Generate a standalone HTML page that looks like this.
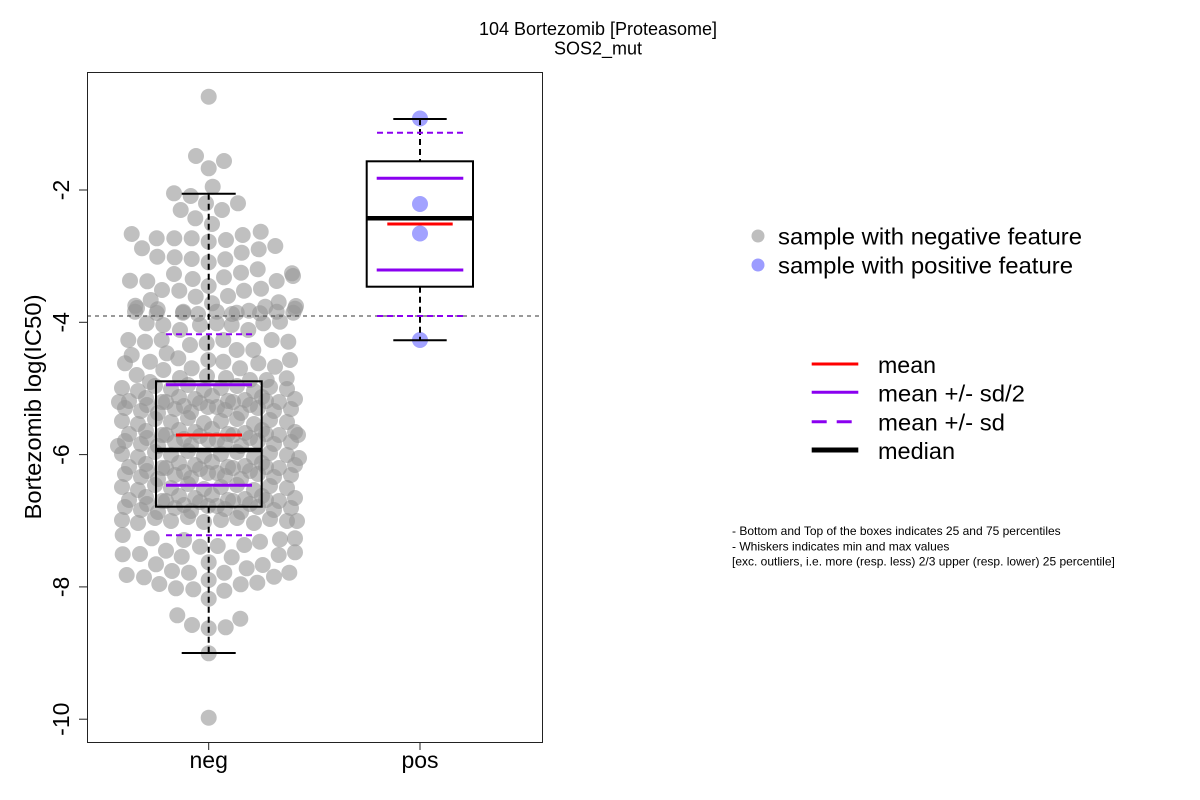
<!DOCTYPE html>
<html><head><meta charset="utf-8"><style>
html,body{margin:0;padding:0;background:#fff;}
svg{display:block;}
text{font-family:"Liberation Sans",Arial,sans-serif;fill:#000;}
.g{fill:rgb(150,150,150);fill-opacity:.6;}
.b{fill:rgb(100,100,255);fill-opacity:.6;}
</style></head><body>
<svg width="1200" height="800" viewBox="0 0 1200 800" xmlns="http://www.w3.org/2000/svg">
<rect x="0" y="0" width="1200" height="800" fill="#fff"/>
<defs>
<g id="rA">
<circle class="g" cx="122" cy="0" r="8"/><circle class="g" cx="138" cy="3" r="8"/><circle class="g" cx="155" cy="-2" r="8"/><circle class="g" cx="171" cy="1" r="8"/><circle class="g" cx="188" cy="-3" r="8"/><circle class="g" cx="204" cy="2" r="8"/><circle class="g" cx="221" cy="0" r="8"/><circle class="g" cx="237" cy="-2" r="8"/><circle class="g" cx="254" cy="3" r="8"/><circle class="g" cx="270" cy="-1" r="8"/><circle class="g" cx="287" cy="1" r="8"/>
</g>
<g id="rB">
<circle class="g" cx="129" cy="2" r="8"/><circle class="g" cx="146" cy="-1" r="8"/><circle class="g" cx="162" cy="3" r="8"/><circle class="g" cx="179" cy="-2" r="8"/><circle class="g" cx="195" cy="0" r="8"/><circle class="g" cx="212" cy="-3" r="8"/><circle class="g" cx="228" cy="2" r="8"/><circle class="g" cx="245" cy="1" r="8"/><circle class="g" cx="262" cy="-2" r="8"/><circle class="g" cx="279" cy="3" r="8"/><circle class="g" cx="295" cy="0" r="8"/>
</g>
<g id="rC">
<circle class="g" cx="125" cy="-2" r="8"/><circle class="g" cx="141" cy="1" r="8"/><circle class="g" cx="158" cy="3" r="8"/><circle class="g" cx="175" cy="-1" r="8"/><circle class="g" cx="191" cy="2" r="8"/><circle class="g" cx="208" cy="-3" r="8"/><circle class="g" cx="225" cy="0" r="8"/><circle class="g" cx="241" cy="3" r="8"/><circle class="g" cx="258" cy="-2" r="8"/><circle class="g" cx="274" cy="1" r="8"/><circle class="g" cx="291" cy="-1" r="8"/>
</g>
<g id="rD">
<circle class="g" cx="147" cy="1" r="8"/><circle class="g" cx="166" cy="-2" r="8"/><circle class="g" cx="184" cy="2" r="8"/><circle class="g" cx="200" cy="-1" r="8"/><circle class="g" cx="217" cy="3" r="8"/><circle class="g" cx="233" cy="-2" r="8"/><circle class="g" cx="250" cy="1" r="8"/><circle class="g" cx="266" cy="-3" r="8"/>
</g>
</defs>

<!-- title -->
<text x="598" y="35" font-size="18" text-anchor="middle">104 Bortezomib [Proteasome]</text>
<text x="598" y="54.5" font-size="18" text-anchor="middle">SOS2_mut</text>

<!-- neg points: top -->
<g>
<circle class="g" cx="208.7" cy="96.7" r="8"/>
<circle class="g" cx="196" cy="156" r="8"/><circle class="g" cx="224" cy="161" r="8"/><circle class="g" cx="208.7" cy="168.3" r="8"/>
<circle class="g" cx="212.7" cy="186.7" r="8"/><circle class="g" cx="174" cy="193.3" r="8"/><circle class="g" cx="190.7" cy="196" r="8"/><circle class="g" cx="206" cy="203.3" r="8"/><circle class="g" cx="238" cy="203.3" r="8"/><circle class="g" cx="180.7" cy="210" r="8"/><circle class="g" cx="222" cy="210" r="8"/><circle class="g" cx="195.3" cy="218.3" r="8"/><circle class="g" cx="212" cy="224" r="8"/>
<circle class="g" cx="131.7" cy="234" r="8"/><circle class="g" cx="156.7" cy="238.3" r="8"/><circle class="g" cx="174.3" cy="238.3" r="8"/><circle class="g" cx="191.7" cy="238.3" r="8"/><circle class="g" cx="208.7" cy="241.7" r="8"/><circle class="g" cx="226" cy="240" r="8"/><circle class="g" cx="242.7" cy="235" r="8"/><circle class="g" cx="260.7" cy="231.7" r="8"/><circle class="g" cx="142" cy="248.3" r="8"/><circle class="g" cx="275.3" cy="246" r="8"/>
<circle class="g" cx="157.3" cy="256.7" r="8"/><circle class="g" cx="174.7" cy="257.3" r="8"/><circle class="g" cx="191.7" cy="259" r="8"/><circle class="g" cx="208.7" cy="262.3" r="8"/><circle class="g" cx="225.3" cy="259.3" r="8"/><circle class="g" cx="241.7" cy="252.7" r="8"/><circle class="g" cx="258.7" cy="249.3" r="8"/>
<circle class="g" cx="130" cy="280.7" r="8"/><circle class="g" cx="147.3" cy="281.3" r="8"/><circle class="g" cx="174" cy="274" r="8"/><circle class="g" cx="192.7" cy="279" r="8"/><circle class="g" cx="208.7" cy="286" r="8"/><circle class="g" cx="224" cy="277.3" r="8"/><circle class="g" cx="241" cy="272.7" r="8"/><circle class="g" cx="257.7" cy="269.3" r="8"/><circle class="g" cx="276.7" cy="281" r="8"/><circle class="g" cx="292" cy="273.3" r="8"/><circle class="g" cx="293" cy="276" r="8"/>
<circle class="g" cx="162" cy="290" r="8"/><circle class="g" cx="179.3" cy="290.7" r="8"/><circle class="g" cx="195.7" cy="296.7" r="8"/><circle class="g" cx="212" cy="303.3" r="8"/><circle class="g" cx="228" cy="296" r="8"/><circle class="g" cx="244" cy="290.7" r="8"/><circle class="g" cx="261" cy="288.7" r="8"/><circle class="g" cx="150.7" cy="300" r="8"/><circle class="g" cx="135.3" cy="305.7" r="8"/><circle class="g" cx="137" cy="308" r="8"/><circle class="g" cx="157.7" cy="309.3" r="8"/><circle class="g" cx="183.3" cy="311.7" r="8"/><circle class="g" cx="232" cy="314" r="8"/><circle class="g" cx="249" cy="310.7" r="8"/><circle class="g" cx="265.3" cy="306.7" r="8"/><circle class="g" cx="278.7" cy="302.3" r="8"/><circle class="g" cx="295" cy="308.7" r="8"/><circle class="g" cx="296" cy="306" r="8"/>
</g>
<!-- neg points: upper middle -->
<g>
<circle class="g" cx="135" cy="311.7" r="8"/><circle class="g" cx="156.7" cy="313" r="8"/><circle class="g" cx="183" cy="312.7" r="8"/><circle class="g" cx="198" cy="314" r="8"/><circle class="g" cx="216.7" cy="311.7" r="8"/><circle class="g" cx="236.7" cy="312.7" r="8"/><circle class="g" cx="260" cy="313.3" r="8"/><circle class="g" cx="276.7" cy="311.7" r="8"/><circle class="g" cx="293.3" cy="312.7" r="8"/>
<circle class="g" cx="146.7" cy="323.3" r="8"/><circle class="g" cx="163.3" cy="325" r="8"/><circle class="g" cx="180" cy="330" r="8"/><circle class="g" cx="200" cy="325" r="8"/><circle class="g" cx="216.7" cy="323.3" r="8"/><circle class="g" cx="231.7" cy="325" r="8"/><circle class="g" cx="248.3" cy="330" r="8"/><circle class="g" cx="263.3" cy="323.3" r="8"/><circle class="g" cx="280" cy="321.7" r="8"/>
<circle class="g" cx="128.3" cy="340" r="8"/><circle class="g" cx="145" cy="341.7" r="8"/><circle class="g" cx="161.7" cy="340" r="8"/><circle class="g" cx="190" cy="345" r="8"/><circle class="g" cx="206.7" cy="343.3" r="8"/><circle class="g" cx="223.3" cy="340" r="8"/><circle class="g" cx="236.7" cy="350" r="8"/><circle class="g" cx="253.3" cy="350" r="8"/><circle class="g" cx="271.7" cy="340" r="8"/><circle class="g" cx="288.3" cy="341.7" r="8"/>
<circle class="g" cx="131.7" cy="355" r="8"/><circle class="g" cx="150" cy="361.7" r="8"/><circle class="g" cx="166.7" cy="353.3" r="8"/><circle class="g" cx="178.3" cy="358.3" r="8"/><circle class="g" cx="191.7" cy="368.3" r="8"/><circle class="g" cx="208.3" cy="360" r="8"/><circle class="g" cx="223.3" cy="361.7" r="8"/><circle class="g" cx="240" cy="368.3" r="8"/><circle class="g" cx="258.3" cy="363.3" r="8"/><circle class="g" cx="275" cy="366.7" r="8"/><circle class="g" cx="290" cy="360" r="8"/>
<circle class="g" cx="125" cy="363.3" r="8"/><circle class="g" cx="136.7" cy="375" r="8"/><circle class="g" cx="163.3" cy="370" r="8"/><circle class="g" cx="180" cy="378" r="8"/><circle class="g" cx="207" cy="376" r="8"/><circle class="g" cx="226" cy="378" r="8"/><circle class="g" cx="250" cy="380" r="8"/><circle class="g" cx="266.7" cy="380" r="8"/><circle class="g" cx="286.7" cy="378.3" r="8"/><circle class="g" cx="150" cy="382" r="8"/>
</g>
<!-- neg points: dense rows -->
<use href="#rA" transform="translate(0,388)"/>
<use href="#rB" transform="translate(0,399)"/>
<use href="#rD" transform="translate(0,404)"/>
<use href="#rC" transform="translate(0,410)"/>
<use href="#rA" transform="translate(0,421)"/>
<use href="#rB" transform="translate(0,432)"/>
<use href="#rD" transform="translate(0,437)"/>
<use href="#rC" transform="translate(0,443)"/>
<use href="#rA" transform="translate(0,454)"/>
<use href="#rB" transform="translate(0,465)"/>
<use href="#rD" transform="translate(0,470)"/>
<use href="#rC" transform="translate(0,476)"/>
<use href="#rA" transform="translate(0,487)"/>
<use href="#rB" transform="translate(0,498)"/>
<use href="#rD" transform="translate(0,503)"/>
<use href="#rC" transform="translate(0,509)"/>
<use href="#rA" transform="translate(0,520)"/>
<g>
<circle class="g" cx="298" cy="435" r="8"/><circle class="g" cx="299" cy="458" r="8"/><circle class="g" cx="297" cy="521" r="8"/><circle class="g" cx="118" cy="446" r="8"/><circle class="g" cx="119" cy="402" r="8"/>
</g>
<!-- neg points: bottom -->
<g>
<circle class="g" cx="122.7" cy="535" r="8"/><circle class="g" cx="151.7" cy="538.3" r="8"/><circle class="g" cx="184" cy="540" r="8"/><circle class="g" cx="200" cy="546.7" r="8"/><circle class="g" cx="217.7" cy="546" r="8"/><circle class="g" cx="244.3" cy="545" r="8"/><circle class="g" cx="260" cy="541.7" r="8"/><circle class="g" cx="280" cy="539.3" r="8"/><circle class="g" cx="295" cy="538.3" r="8"/>
<circle class="g" cx="140" cy="554" r="8"/><circle class="g" cx="122.7" cy="554.3" r="8"/><circle class="g" cx="166" cy="550.7" r="8"/><circle class="g" cx="181.7" cy="556.7" r="8"/><circle class="g" cx="208.7" cy="562.3" r="8"/><circle class="g" cx="231.7" cy="557.3" r="8"/><circle class="g" cx="278.7" cy="555" r="8"/><circle class="g" cx="295" cy="552.3" r="8"/>
<circle class="g" cx="156" cy="564.3" r="8"/><circle class="g" cx="172" cy="571" r="8"/><circle class="g" cx="189" cy="572.7" r="8"/><circle class="g" cx="224.3" cy="572.7" r="8"/><circle class="g" cx="246.7" cy="568.3" r="8"/><circle class="g" cx="262.7" cy="565" r="8"/><circle class="g" cx="126.7" cy="575" r="8"/><circle class="g" cx="144" cy="577.3" r="8"/><circle class="g" cx="208.7" cy="580" r="8"/><circle class="g" cx="289.3" cy="572.7" r="8"/><circle class="g" cx="274" cy="576.7" r="8"/>
<circle class="g" cx="159.3" cy="584" r="8"/><circle class="g" cx="176" cy="588.3" r="8"/><circle class="g" cx="193.3" cy="589.3" r="8"/><circle class="g" cx="208.7" cy="598.7" r="8"/><circle class="g" cx="224.3" cy="590.7" r="8"/><circle class="g" cx="240.7" cy="584.3" r="8"/><circle class="g" cx="257.3" cy="582.7" r="8"/>
<circle class="g" cx="177.3" cy="615.3" r="8"/><circle class="g" cx="192" cy="625" r="8"/><circle class="g" cx="208.7" cy="628.3" r="8"/><circle class="g" cx="225.7" cy="627.3" r="8"/><circle class="g" cx="240.3" cy="618.7" r="8"/>
<circle class="g" cx="208.7" cy="653.3" r="8"/><circle class="g" cx="208.7" cy="717.7" r="8"/>
</g>
<!-- pos points -->
<circle class="b" cx="420" cy="118.5" r="8"/>
<circle class="b" cx="420" cy="204" r="8"/>
<circle class="b" cx="420" cy="233.5" r="8"/>
<circle class="b" cx="420" cy="340" r="8"/>

<!-- reference dashed line -->
<line x1="87" y1="316" x2="542" y2="316" stroke="#333" stroke-width="1" stroke-dasharray="4,4"/>

<!-- neg box -->
<g stroke="#000" fill="none">
<line x1="208.7" y1="193.7" x2="208.7" y2="381.3" stroke-width="2" stroke-dasharray="6,4"/>
<line x1="208.7" y1="506.7" x2="208.7" y2="653" stroke-width="2" stroke-dasharray="6,4"/>
<line x1="181.7" y1="193.7" x2="235.7" y2="193.7" stroke-width="2"/>
<line x1="181.7" y1="653" x2="235.7" y2="653" stroke-width="2"/>
<rect x="156" y="381.3" width="105.7" height="125.4" stroke-width="2"/>
<line x1="156" y1="450" x2="261.7" y2="450" stroke-width="4.5"/>
</g>
<line x1="176" y1="435" x2="242" y2="435" stroke="#ff0000" stroke-width="3"/>
<line x1="166" y1="384.7" x2="252" y2="384.7" stroke="#8a00f0" stroke-width="3"/>
<line x1="166" y1="485.3" x2="252" y2="485.3" stroke="#8a00f0" stroke-width="3"/>
<line x1="166" y1="334.3" x2="252" y2="334.3" stroke="#8a00f0" stroke-width="2" stroke-dasharray="6,4"/>
<line x1="166" y1="535.3" x2="252" y2="535.3" stroke="#8a00f0" stroke-width="2" stroke-dasharray="6,4"/>

<!-- pos box -->
<g stroke="#000" fill="none">
<line x1="420" y1="119" x2="420" y2="161.3" stroke-width="2" stroke-dasharray="6,4"/>
<line x1="420" y1="286.7" x2="420" y2="340.3" stroke-width="2" stroke-dasharray="6,4"/>
<line x1="393.3" y1="119" x2="446.7" y2="119" stroke-width="2"/>
<line x1="393.3" y1="340.3" x2="446.7" y2="340.3" stroke-width="2"/>
<rect x="366.7" y="161.3" width="106.3" height="125.4" stroke-width="2"/>
<line x1="366.7" y1="218.3" x2="473" y2="218.3" stroke-width="4.5"/>
</g>
<line x1="387.3" y1="224" x2="452.7" y2="224" stroke="#ff0000" stroke-width="3"/>
<line x1="376.7" y1="178.3" x2="463.3" y2="178.3" stroke="#8a00f0" stroke-width="3"/>
<line x1="376.7" y1="270" x2="463.3" y2="270" stroke="#8a00f0" stroke-width="3"/>
<line x1="377" y1="132.7" x2="463" y2="132.7" stroke="#8a00f0" stroke-width="2" stroke-dasharray="6,4"/>
<line x1="377" y1="316" x2="463" y2="316" stroke="#8a00f0" stroke-width="2" stroke-dasharray="6,4"/>

<!-- frame -->
<rect x="87.5" y="72.5" width="455" height="670" fill="none" stroke="#222" stroke-width="1"/>

<!-- y axis ticks & labels -->
<g stroke="#222" stroke-width="1">
<line x1="79" y1="190" x2="87" y2="190"/>
<line x1="79" y1="322.3" x2="87" y2="322.3"/>
<line x1="79" y1="454.6" x2="87" y2="454.6"/>
<line x1="79" y1="586.9" x2="87" y2="586.9"/>
<line x1="79" y1="719.2" x2="87" y2="719.2"/>
<line x1="208.7" y1="742" x2="208.7" y2="750"/>
<line x1="420" y1="742" x2="420" y2="750"/>
</g>
<g font-size="23" text-anchor="middle">
<text transform="translate(69,190) rotate(-90)">-2</text>
<text transform="translate(69,322.3) rotate(-90)">-4</text>
<text transform="translate(69,454.6) rotate(-90)">-6</text>
<text transform="translate(69,586.9) rotate(-90)">-8</text>
<text transform="translate(69,719.2) rotate(-90)">-10</text>
<text x="208.7" y="768">neg</text>
<text x="420" y="768">pos</text>
<text transform="translate(41,407) rotate(-90)" textLength="225" lengthAdjust="spacingAndGlyphs">Bortezomib log(IC50)</text>
</g>

<!-- legend 1 -->
<circle cx="758" cy="236" r="6.5" fill="#bebebe"/>
<circle cx="758" cy="265" r="6.5" fill="#9c9cff"/>
<text x="778" y="244.5" font-size="23" textLength="304" lengthAdjust="spacingAndGlyphs">sample with negative feature</text>
<text x="778" y="273.5" font-size="23" textLength="295" lengthAdjust="spacingAndGlyphs">sample with positive feature</text>

<!-- legend 2 -->
<line x1="811.7" y1="364" x2="858.3" y2="364" stroke="#ff0000" stroke-width="3"/>
<line x1="811.7" y1="392.3" x2="858.3" y2="392.3" stroke="#8a00f0" stroke-width="3"/>
<line x1="811.7" y1="421.7" x2="858.3" y2="421.7" stroke="#8a00f0" stroke-width="3" stroke-dasharray="15,10"/>
<line x1="811.7" y1="450" x2="858.3" y2="450" stroke="#000" stroke-width="5"/>
<g font-size="23">
<text x="878" y="373" textLength="58" lengthAdjust="spacingAndGlyphs">mean</text>
<text x="878" y="401.3" textLength="147" lengthAdjust="spacingAndGlyphs">mean +/- sd/2</text>
<text x="878" y="430.7" textLength="127" lengthAdjust="spacingAndGlyphs">mean +/- sd</text>
<text x="878" y="459" textLength="77" lengthAdjust="spacingAndGlyphs">median</text>
</g>

<!-- notes -->
<g font-size="12">
<text x="732" y="535">- Bottom and Top of the boxes indicates 25 and 75 percentiles</text>
<text x="732" y="550.5">- Whiskers indicates min and max values</text>
<text x="732" y="565.5">[exc. outliers, i.e. more (resp. less) 2/3 upper (resp. lower) 25 percentile]</text>
</g>
</svg>
</body></html>
